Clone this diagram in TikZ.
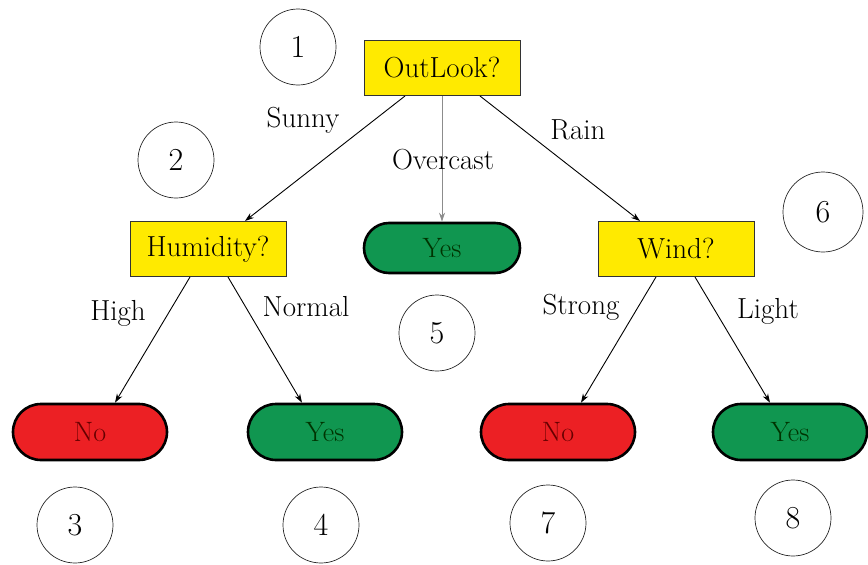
\documentclass[tikz,border=0pt]{standalone}
\usetikzlibrary{arrows.meta,shapes.misc}
\definecolor{qyellow}{RGB}{255,234,0}
\definecolor{leafred}{RGB}{236,32,36}
\definecolor{leafgreen}{RGB}{16,150,80}
\begin{document}
\begin{tikzpicture}[x=1pt,y=-1pt,
  question/.style={draw=black!80, fill=qyellow, line width=1pt,
    minimum width=156pt, minimum height=55pt, inner sep=0pt,
    font=\fontsize{29}{33}\selectfont, text=black},
  leaf/.style={rounded rectangle, draw=black, line width=2.6pt,
    minimum width=154pt, minimum height=52pt, inner sep=0pt,
    font=\fontsize{28}{32}\selectfont},
  noleaf/.style={leaf, fill=leafred, text=red!40!black},
  yesleaf/.style={leaf, fill=leafgreen, text=green!20!black},
  stepnum/.style={circle, draw=black!85, line width=0.7pt,
    minimum size=76pt, inner sep=0pt, font=\fontsize{32}{36}\selectfont},
  branch/.style={font=\fontsize{29}{33}\selectfont, inner sep=0pt},
  link/.style={line width=0.9pt, -{Stealth[length=9pt,width=6pt]}}]
\useasboundingbox (0,0) rectangle (868,565);

% decision nodes
\node[question] (outlook) at (442,68) {OutLook?};
\node[question] (humid) at (208,249) {Humidity?};
\node[question] (wind) at (676,249) {Wind?};

% leaves
\node[yesleaf, minimum width=156pt, minimum height=50pt] (over) at (442,248) {Yes};
\node[noleaf, minimum height=56pt] (no1) at (90,432) {No};
\node[yesleaf, minimum height=56pt] (yes1) at (325,432) {Yes};
\node[noleaf, minimum height=56pt] (no2) at (558,432) {No};
\node[yesleaf, minimum height=56pt] (yes2) at (790,432) {Yes};

% step numbers
\node[stepnum] (s1) at (298,47) {1};
\node[stepnum] (s2) at (176,160) {2};
\node[stepnum] (s3) at (75,525) {3};
\node[stepnum] (s4) at (321,525) {4};
\node[stepnum] (s5) at (437,333) {5};
\node[stepnum, minimum size=80pt] (s6) at (823,212) {6};
\node[stepnum] (s7) at (548,523) {7};
\node[stepnum] (s8) at (793,518) {8};

% branches
\draw[link] (outlook.south -| 405,0) -- (humid.north -| 245,0);
\draw[link, draw=black!45] (outlook.south) -- (over.north);
\draw[link] (outlook.south -| 480,0) -- (wind.north -| 640,0);
\draw[link] (humid.south -| 190,0) -- (no1.north -| 115,0);
\draw[link] (humid.south -| 228,0) -- (yes1.north -| 302,0);
\draw[link] (wind.south -| 656,0) -- (no2.north -| 581,0);
\draw[link] (wind.south -| 695,0) -- (yes2.north -| 770,0);

% branch labels
\node[branch] (lsunny) at (303,120) {Sunny};
\node[branch] (lover) at (443,160) {Overcast};
\node[branch] (lrain) at (578,130) {Rain};
\node[branch] (lhigh) at (118,313) {High};
\node[branch] (lnormal) at (306,307) {Normal};
\node[branch] (lstrong) at (581,307) {Strong};
\node[branch] (llight) at (768,311) {Light};
\end{tikzpicture}
\end{document}
